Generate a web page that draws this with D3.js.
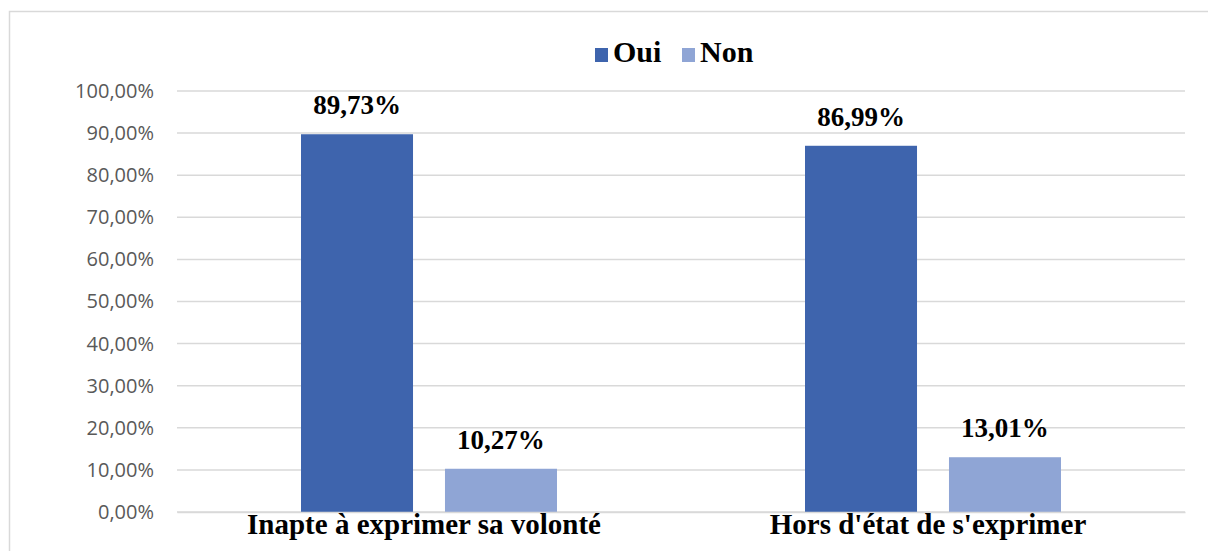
<!DOCTYPE html>
<html>
<head>
<meta charset="utf-8">
<script src="https://cdn.jsdelivr.net/npm/d3@7"></script>
<style>
body{margin:0;background:#fff}
</style>
</head>
<body>
<div id="chart"></div>
<script>
var categories=["Inapte à exprimer sa volonté","Hors d'état de s'exprimer"]
var series=["Oui","Non"]
var oui=[89.73,86.99]
var non=[10.27,13.01]
var yTicks=[0,10,20,30,40,50,60,70,80,90,100]
var colors=["#3e64ad","#8fa5d5"]

var serif="'Liberation Serif', 'Times New Roman', serif"
var width=1208,height=551
var margin={top:91,left:177,right:23,bottom:39}
var w=width-margin.left-margin.right
var h=height-margin.top-margin.bottom

var svg=d3.select("#chart").append("svg")
	.attr("width",width)
	.attr("height",height)

// cadre
svg.append("rect")
	.attr("x",9.5).attr("y",11.5)
	.attr("width",1220).attr("height",580)
	.attr("fill","none")
	.attr("stroke","#d9d9d9")
	.attr("stroke-width",1.5)

var g=svg.append("g")
	.attr("transform","translate("+margin.left+","+margin.top+")")

var y=d3.scaleLinear().domain([0,100]).range([h,0])
var x0=d3.scaleBand().domain(categories).range([0,w]).paddingInner(0).paddingOuter(0)
var x1=d3.scaleBand().domain(series).range([x0.bandwidth()/2-128,x0.bandwidth()/2+128]).paddingInner(0.222).paddingOuter(0)

var fmt=function(v){return d3.format(".2f")(v).replace(".",",")+"%"}

// grille
g.selectAll(".grid").data(yTicks).enter().append("line")
	.attr("x1",0).attr("x2",w)
	.attr("y1",function(d){return y(d)}).attr("y2",function(d){return y(d)})
	.attr("stroke","#d9d9d9").attr("stroke-width",1.5)

// axe y
var yAxis=d3.axisLeft(y).tickValues(yTicks).tickSize(0).tickPadding(23).tickFormat(fmt)
var ya=g.append("g").call(yAxis)
ya.select(".domain").remove()
ya.selectAll("text")
	.style("font-family","'Open Sans', sans-serif")
	.style("font-size","20px")
	.attr("fill","#595959")

var table=categories.map(function(c,i){return {cat:c,vals:[{s:"Oui",v:oui[i]},{s:"Non",v:non[i]}]}})

var groups=g.selectAll(".grp").data(table).enter().append("g")
	.attr("transform",function(d){return "translate("+x0(d.cat)+",0)"})

groups.selectAll("rect").data(function(d){return d.vals}).enter().append("rect")
	.attr("x",function(d){return x1(d.s)})
	.attr("width",x1.bandwidth())
	.attr("y",function(d){return y(d.v)})
	.attr("height",function(d){return h-y(d.v)})
	.attr("fill",function(d,i){return colors[i]})

groups.selectAll(".lbl").data(function(d){return d.vals}).enter().append("text")
	.attr("x",function(d){return x1(d.s)+x1.bandwidth()/2})
	.attr("y",function(d){return y(d.v)-20})
	.attr("text-anchor","middle")
	.style("font-family",serif)
	.style("font-weight","bold")
	.style("font-size","27px")
	.attr("fill","#000")
	.text(function(d){return fmt(d.v)})

// axe x
var xAxis=d3.axisBottom(x0).tickSize(0).tickPadding(0)
var xa=g.append("g").attr("transform","translate(0,"+h+")").call(xAxis)
xa.select(".domain").attr("stroke","#d9d9d9").attr("stroke-width",1.5)
xa.selectAll("text")
	.attr("dy",null).attr("y",22)
	.attr("dx",-5)
	.style("font-family",serif)
	.style("font-weight","bold")
	.style("font-size","29px")
	.attr("fill","#000")

// légende
var legX=[595,682]
var leg=svg.selectAll(".leg").data(series).enter().append("g")
	.attr("transform",function(d,i){return "translate("+legX[i]+",48)"})
leg.append("rect").attr("width",13).attr("height",14).attr("y",0)
	.attr("fill",function(d,i){return colors[i]})
leg.append("text").attr("x",18).attr("y",14)
	.style("font-family",serif)
	.style("font-weight","bold")
	.style("font-size","30px")
	.text(function(d){return d})
</script>
</body>
</html>
